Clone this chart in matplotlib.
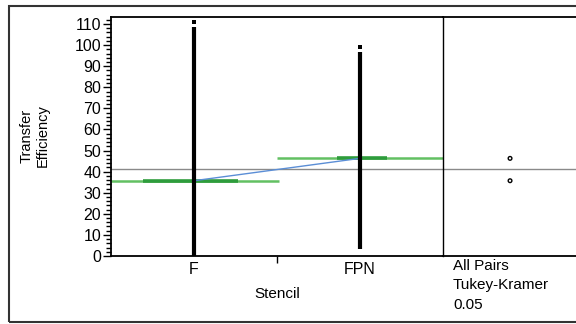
import matplotlib
matplotlib.use('Agg')
import matplotlib.pyplot as plt
from matplotlib.patches import Rectangle
from matplotlib.ticker import MultipleLocator

plt.rcParams['font.family'] = ['Liberation Sans', 'DejaVu Sans']

# data
stencils = ['F', 'FPN']
strip_low = [0.0, 3.3]
strip_high = [108.7, 96.9]
top_points = [110.8, 99.0]
group_means = [35.7, 46.3]
grand_mean = 41.1

W, H = 576, 324
fig = plt.figure(figsize=(W / 100, H / 100), dpi=100)

def fx(px):
    return px / W

def fy(px):
    return 1 - px / H

# outer frame
fig.patches.append(Rectangle((fx(9), fy(322)), 1.2, fy(6) - fy(322), transform=fig.transFigure,
                             fill=False, ec='#333333', lw=1.5))

cmp = fig.add_axes([fx(443), fy(256), fx(600) - fx(443), fy(17.3) - fy(256)])
ax = fig.add_axes([fx(111), fy(256), fx(443) - fx(111), fy(17.3) - fy(256)])
cmp.patch.set_visible(False)
ax.patch.set_visible(False)

xs = [0.5, 1.5]
ax.set_xlim(0, 2)
ax.set_ylim(0, 113.2)

ax.axhline(grand_mean, color='#8a8a8a', lw=1, zorder=1)

# green mean lines (light full width, darker middle part)
green_span = [(0.0, 1.012), (1.0, 2.0)]
green_dark = [(0.19, 0.765), (1.36, 1.66)]
for (a, b), (c, d), m in zip(green_span, green_dark, group_means):
    ax.plot([a, b], [m, m], color='#62c062', lw=1.8, solid_capstyle='butt', zorder=2)
    ax.plot([c, d], [m, m], color='#2e9c3c', lw=2.6, solid_capstyle='butt', zorder=2)

ax.plot(xs, group_means, color='#5b8ed6', lw=1, zorder=3)

ax.vlines(xs, strip_low, strip_high, color='black', lw=3, zorder=4)
ax.scatter(xs, top_points, s=6, marker='s', color='black', lw=0, zorder=4)

ax.yaxis.set_major_locator(MultipleLocator(10))
ax.yaxis.set_minor_locator(MultipleLocator(2))
ax.tick_params(axis='y', which='major', length=6, width=1, labelsize=11.5, pad=1)
ax.tick_params(axis='y', which='minor', length=3.5, width=1)

ax.set_xticks([1.0])
ax.set_xticklabels([''])
ax.set_xticks(xs, minor=True)
ax.set_xticklabels(stencils, minor=True)
ax.tick_params(axis='x', which='major', length=5, width=1)
ax.tick_params(axis='x', which='minor', length=0, labelsize=11.5, pad=4)

for s in ['left', 'bottom', 'top']:
    ax.spines[s].set_linewidth(1.3)
ax.spines['right'].set_linewidth(1)
ax.spines['right'].set_color('black')

# comparison circles panel
cmp.set_xlim(0, 1)
cmp.set_ylim(0, 113.2)
cmp.axhline(grand_mean, color='#8a8a8a', lw=1)
cmp.scatter([0.427, 0.427], group_means, s=7, facecolors='none', edgecolors='black', lw=1)
cmp.set_xticks([])
cmp.set_yticks([])
cmp.spines['left'].set_visible(False)
cmp.spines['right'].set_visible(False)
cmp.spines['top'].set_linewidth(1.3)
cmp.spines['bottom'].set_linewidth(1.3)

fig.text(fx(35), fy(136), 'Transfer\nEfficiency', rotation=90, ha='center', va='center',
         fontsize=10.5, linespacing=1.2)
fig.text(fx(277), fy(294), 'Stencil', ha='center', va='center', fontsize=11)
fig.text(fx(453), fy(259), 'All Pairs\nTukey-Kramer\n0.05', ha='left', va='top',
         fontsize=11, linespacing=1.5)

fig.savefig('out.png', dpi=100)
